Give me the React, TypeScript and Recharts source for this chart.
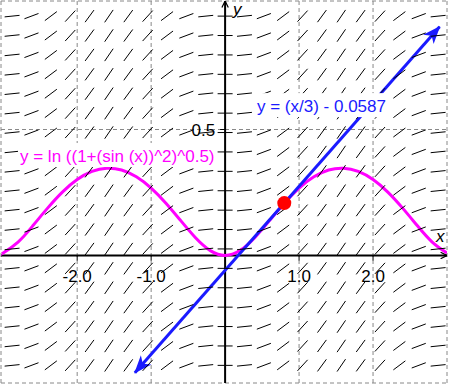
import React from 'react';
import { ComposedChart, XAxis, YAxis, Line, Scatter, ReferenceLine, ReferenceDot } from 'recharts';

// ---- data ----
const X_DOMAIN: [number, number] = [-3.03, 3.0];
const Y_DOMAIN: [number, number] = [-0.506, 1.01];

// magenta curve y = ln((1+sin(x)^2)^0.5)
const curveX = [-3.03, -3.0, -2.8, -2.6, -2.4, -2.2, -2.0, -1.8, -1.6, -1.4, -1.2, -1.0, -0.8, -0.6, -0.4, -0.2, 0.0, 0.2, 0.4, 0.6, 0.8, 1.0, 1.2, 1.4, 1.6, 1.8, 2.0, 2.2, 2.4, 2.6, 2.8, 3.0];
const curveY = [0.0062, 0.0099, 0.0532, 0.1178, 0.188, 0.2515, 0.3013, 0.3335, 0.3464, 0.3393, 0.3126, 0.2677, 0.2076, 0.1383, 0.0706, 0.0194, 0.0, 0.0194, 0.0706, 0.1383, 0.2076, 0.2677, 0.3126, 0.3393, 0.3464, 0.3335, 0.3013, 0.2515, 0.188, 0.1178, 0.0532, 0.0099];

// blue tangent line y = x/3 - 0.0587
const tangentX = [-1.22, 2.9];
const tangentY = [-0.465, 0.908];

// red tangent point
const pointX = 0.8;
const pointY = 0.208;

// slope field
const fieldX = [-2.88, -2.618, -2.356, -2.094, -1.833, -1.571, -1.309, -1.047, -0.785, -0.524, -0.262, 0, 0.262, 0.524, 0.785, 1.047, 1.309, 1.571, 1.833, 2.094, 2.356, 2.618, 2.88];
const fieldSlope = [0.03, 0.11, 0.22, 0.32, 0.4, 0.43, 0.4, 0.32, 0.22, 0.11, 0.03, 0, 0.03, 0.11, 0.22, 0.32, 0.4, 0.43, 0.4, 0.32, 0.22, 0.11, 0.03];
const fieldY = [0.95, 0.873, 0.796, 0.719, 0.642, 0.565, 0.488, 0.411, 0.334, 0.257, 0.18, 0.103, 0.026, -0.051, -0.128, -0.205, -0.282, -0.359, -0.436];

const xTicks = [-2, -1, 1, 2];
const xTickLabels = ['-2.0', '-1.0', '1.0', '2.0'];
const yTicks = [0.5];
const yTickLabels = ['0.5'];
const gridX = [-2, -1, 1, 2];
const gridY = [0.5];

const curveLabel = 'y = ln ((1+(sin (x))^2)^0.5)';
const curveLabelPos = { x: -2.773, y: 0.371 };
const tangentLabel = 'y = (x/3) - 0.0587';
const tangentLabelPos = { x: 0.431, y: 0.569 };
const xAxisLabelPos = { x: 2.851, y: 0.0536 };
const yAxisLabelPos = { x: 0.107, y: 0.954 };

// ---- layout ----
const W = 449;
const H = 386;
const MARGIN = { top: 1, right: 2, bottom: 3, left: 1 };
const PLOT_W = W - MARGIN.left - MARGIN.right;
const PLOT_H = H - MARGIN.top - MARGIN.bottom;
const KX = PLOT_W / (X_DOMAIN[1] - X_DOMAIN[0]);
const KY = PLOT_H / (Y_DOMAIN[1] - Y_DOMAIN[0]);
const FONT = '"Liberation Sans", Arial, sans-serif';

const curveData = curveX.map((x, i) => ({ x, y: curveY[i] }));
const tangentData = tangentX.map((x, i) => ({ x, y: tangentY[i] }));
const fieldData: { x: number; y: number; s: number }[] = [];
fieldX.forEach((x, i) => {
  fieldY.forEach((y) => fieldData.push({ x, y, s: fieldSlope[i] }));
});
const xTickData = xTicks.map((x, i) => ({ x, y: 0, label: xTickLabels[i] }));
const yTickData = yTicks.map((y, i) => ({ x: 0, y, label: yTickLabels[i] }));
const xAxisData = [{ x: X_DOMAIN[0], y: 0 }, { x: X_DOMAIN[1], y: 0 }];
const yAxisData = [{ x: 0, y: Y_DOMAIN[0] }, { x: 0, y: Y_DOMAIN[1] }];

const renderSegment = (p: any) => {
  const { cx, cy, payload } = p;
  if (cx == null || cy == null) return <g />;
  const a = Math.atan((payload.s * KY) / KX);
  const half = 7.5;
  const dx = half * Math.cos(a);
  const dy = half * Math.sin(a);
  return <line x1={cx - dx} y1={cy + dy} x2={cx + dx} y2={cy - dy} stroke="#000" strokeWidth={1} />;
};

const renderXTick = (p: any) => {
  const { cx, cy, payload } = p;
  return (
    <g>
      <line x1={cx} y1={cy} x2={cx} y2={cy + 5} stroke="#000" strokeWidth={1} />
      <text x={cx} y={cy + 27} textAnchor="middle" fontFamily={FONT} fontSize={17} fill="#000">
        {payload.label}
      </text>
    </g>
  );
};

const renderYTick = (p: any) => {
  const { cx, cy, payload } = p;
  return (
    <g>
      <line x1={cx - 5} y1={cy} x2={cx} y2={cy} stroke="#000" strokeWidth={1} />
      <text x={cx - 10} y={cy + 6.5} textAnchor="end" fontFamily={FONT} fontSize={17} fill="#000">
        {payload.label}
      </text>
    </g>
  );
};

const textShape = (label: string, color: string, italic = false, bgWidth = 0) => (p: any) => (
  <g>
    {bgWidth > 0 && <rect x={p.cx - 2} y={p.cy - 19} width={bgWidth} height={24} fill="#fff" />}
    <text x={p.cx} y={p.cy} fontFamily={FONT} fontSize={17} fill={color} fontStyle={italic ? 'italic' : 'normal'}>
      {label}
    </text>
  </g>
);

export default function App() {
  return (
    <div style={{ position: 'absolute', left: 0, top: 0, width: W, height: H, background: '#fff' }}>
      <svg width={0} height={0} style={{ position: 'absolute' }}>
        <defs>
          <marker id="blueArrow" viewBox="0 0 20 20" refX="18" refY="10" markerWidth="20" markerHeight="20" markerUnits="userSpaceOnUse" orient="auto-start-reverse">
            <path d="M19,10 L1,3 L6,10 L1,17 Z" fill="#1a1aff" />
          </marker>
          <marker id="axisArrow" viewBox="0 0 10 10" refX="9" refY="5" markerWidth="8" markerHeight="8" markerUnits="userSpaceOnUse" orient="auto">
            <path d="M1,1 L9,5 L1,9" fill="none" stroke="#000" strokeWidth={1.5} />
          </marker>
        </defs>
      </svg>
      <ComposedChart width={W} height={H} margin={MARGIN}>
        <XAxis type="number" dataKey="x" domain={X_DOMAIN} hide allowDataOverflow />
        <YAxis type="number" dataKey="y" domain={Y_DOMAIN} hide allowDataOverflow />
        {gridX.map((v) => (
          <ReferenceLine key={'gx' + v} x={v} stroke="#888" strokeDasharray="4 3" strokeWidth={1} />
        ))}
        {gridY.map((v) => (
          <ReferenceLine key={'gy' + v} y={v} stroke="#888" strokeDasharray="4 3" strokeWidth={1} />
        ))}
        <ReferenceLine x={X_DOMAIN[0]} stroke="#888" strokeDasharray="4 3" strokeWidth={1} />
        <ReferenceLine x={X_DOMAIN[1]} stroke="#888" strokeDasharray="4 3" strokeWidth={1} />
        <ReferenceLine y={Y_DOMAIN[0]} stroke="#888" strokeDasharray="4 3" strokeWidth={1} />
        <ReferenceLine y={Y_DOMAIN[1]} stroke="#888" strokeDasharray="4 3" strokeWidth={1} />
        <Scatter data={fieldData} shape={renderSegment} isAnimationActive={false} />
        <Line data={xAxisData} dataKey="y" stroke="#000" strokeWidth={2} dot={false} activeDot={false} isAnimationActive={false} markerEnd="url(#axisArrow)" />
        <Line data={yAxisData} dataKey="y" stroke="#000" strokeWidth={2} dot={false} activeDot={false} isAnimationActive={false} markerEnd="url(#axisArrow)" />
        <Scatter data={xTickData} shape={renderXTick} isAnimationActive={false} />
        <Scatter data={yTickData} shape={renderYTick} isAnimationActive={false} />
        <Line data={curveData} dataKey="y" type="natural" stroke="#ff00ff" strokeWidth={3} dot={false} activeDot={false} isAnimationActive={false} />
        <Line data={tangentData} dataKey="y" type="linear" stroke="#1a1aff" strokeWidth={3} dot={false} activeDot={false} isAnimationActive={false} markerStart="url(#blueArrow)" markerEnd="url(#blueArrow)" />
        <ReferenceDot x={pointX} y={pointY} r={7} fill="#ff0000" stroke="none" />
        <ReferenceDot x={curveLabelPos.x} y={curveLabelPos.y} shape={textShape(curveLabel, '#ff00ff', false, 199)} />
        <ReferenceDot x={tangentLabelPos.x} y={tangentLabelPos.y} shape={textShape(tangentLabel, '#1a1aff', false, 135)} />
        <ReferenceDot x={xAxisLabelPos.x} y={xAxisLabelPos.y} shape={textShape('x', '#000', true)} />
        <ReferenceDot x={yAxisLabelPos.x} y={yAxisLabelPos.y} shape={textShape('y', '#000', true)} />
      </ComposedChart>
    </div>
  );
}
